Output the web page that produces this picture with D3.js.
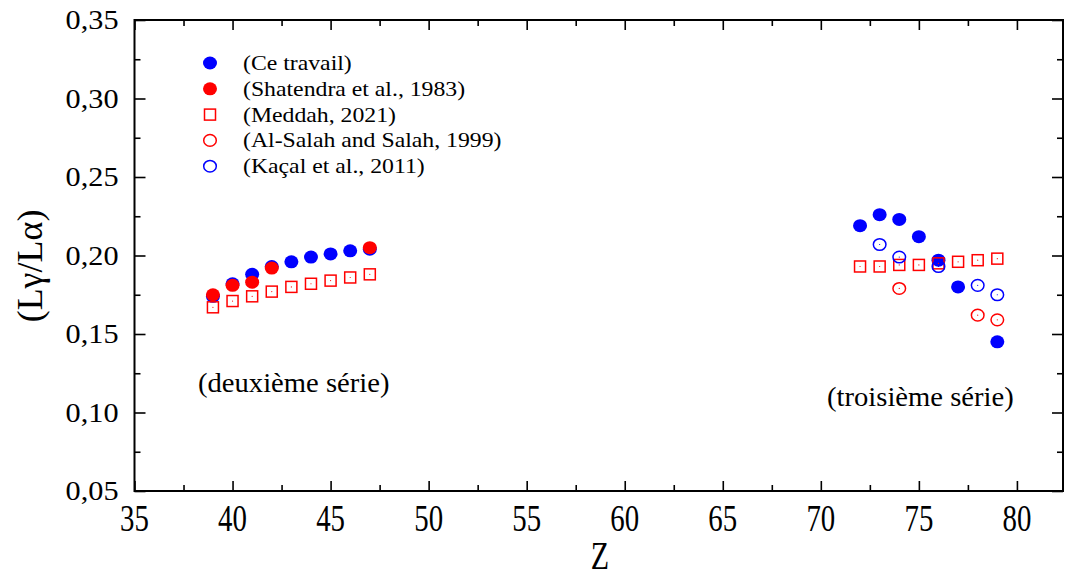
<!DOCTYPE html>
<html><head><meta charset="utf-8">
<script src="https://cdn.jsdelivr.net/npm/d3@7"></script>
<style>body{margin:0;background:#fff}svg{display:block}</style>
</head><body><svg id="c" width="1066" height="579" font-family="'Liberation Serif', 'Times New Roman', Times, serif"></svg>
<script>
// ---- data ----
const ceTravailZ = [39,40,41,42,43,44,45,46,47,72,73,74,75,76,77,79];
const ceTravailY = [0.174,0.182,0.188,0.193,0.196,0.199,0.201,0.203,0.204,0.219,0.226,0.223,0.212,0.197,0.180,0.145];
const shatendraZ = [39,40,41,42,47];
const shatendraY = [0.175,0.181,0.183,0.192,0.205];
const meddahZ = [39,40,41,42,43,44,45,46,47,72,73,74,75,76,77,78,79];
const meddahY = [0.167,0.171,0.174,0.177,0.180,0.182,0.184,0.186,0.188,0.193,0.193,0.194,0.194,0.195,0.196,0.197,0.198];
const alSalahZ = [74,78,79];
const alSalahY = [0.179,0.162,0.159];
const kacalZ = [73,74,76,78,79];
const kacalY = [0.207,0.199,0.193,0.181,0.175];
const xTicks = [35,40,45,50,55,60,65,70,75,80];
const yTicks = [0.05,0.10,0.15,0.20,0.25,0.30,0.35];
const legendLabels = ["(Ce travail)","(Shatendra et al., 1983)","(Meddah, 2021)","(Al-Salah and Salah, 1999)","(Kaçal et al., 2011)"];

const FONT = "'Liberation Serif', 'Times New Roman', Times, serif";
const svg = d3.select("#c");
const L=134.5, R=1063, T=20, B=491;
const x = d3.scaleLinear().domain([35,82.35]).range([L,R]);
const y = d3.scaleLinear().domain([0.05,0.35]).range([B,T]);
const fmt = d => d3.format(".2f")(d).replace(".",",");

// frame
svg.append("rect").attr("x",L).attr("y",T).attr("width",R-L).attr("height",B-T)
  .attr("fill","none").attr("stroke","#000").attr("stroke-width",2);

const xMinor = d3.range(37.5,82.4,5);
const yMinor = d3.range(0.075,0.35,0.05);
svg.append("g").attr("transform",`translate(0,${B})`).call(d3.axisBottom(x).tickValues(xTicks).tickSize(-10).tickFormat(""));
svg.append("g").attr("transform",`translate(0,${T})`).call(d3.axisTop(x).tickValues(xTicks).tickSize(-10).tickFormat(""));
svg.append("g").attr("transform",`translate(${L},0)`).call(d3.axisLeft(y).tickValues(yTicks).tickSize(-11).tickFormat(""));
svg.append("g").attr("transform",`translate(${R},0)`).call(d3.axisRight(y).tickValues(yTicks).tickSize(-11).tickFormat(""));
svg.append("g").attr("transform",`translate(0,${B})`).call(d3.axisBottom(x).tickValues(xMinor).tickSize(-6).tickFormat(""));
svg.append("g").attr("transform",`translate(0,${T})`).call(d3.axisTop(x).tickValues(xMinor).tickSize(-6).tickFormat(""));
svg.append("g").attr("transform",`translate(${L},0)`).call(d3.axisLeft(y).tickValues(yMinor).tickSize(-6).tickFormat(""));
svg.append("g").attr("transform",`translate(${R},0)`).call(d3.axisRight(y).tickValues(yMinor).tickSize(-6).tickFormat(""));
svg.selectAll(".domain").remove();
svg.selectAll(".tick line").attr("stroke","#000").attr("stroke-width",1.6);

// tick labels
svg.append("g").selectAll("text").data(xTicks).join("text")
  .attr("transform",d=>`translate(${x(d)},${B+40}) scale(0.76,1)`)
  .attr("font-family",FONT).attr("text-anchor","middle").attr("font-size",38).text(d=>d);
svg.append("g").selectAll("text").data(yTicks).join("text")
  .attr("transform",d=>`translate(${L-16},${y(d)+9}) scale(1.08,1)`)
  .attr("font-family",FONT).attr("text-anchor","end").attr("font-size",28).text(fmt);

// axis titles
svg.append("text").attr("transform",`translate(600,569) scale(0.75,1)`)
  .attr("font-family",FONT).attr("text-anchor","middle").attr("font-size",40).text("Z");
svg.append("text").attr("transform",`translate(42,266) rotate(-90)`)
  .attr("font-family",FONT).attr("text-anchor","middle").attr("font-size",36).text("(Lγ/Lα)");

// annotations
svg.append("text").attr("transform","translate(198,392) scale(1.06,1)").attr("font-family",FONT).attr("font-size",27).text("(deuxième série)");
svg.append("text").attr("transform","translate(827,406) scale(1.06,1)").attr("font-family",FONT).attr("font-size",27).text("(troisième série)");

// series
const blue="#0000ff", red="#ff0000";
function filled(zs,ys,col){
  svg.append("g").selectAll("ellipse").data(zs).join("ellipse")
    .attr("cx",d=>x(d)).attr("cy",(d,i)=>y(ys[i])).attr("rx",7).attr("ry",6.5).attr("fill",col);
}
function openC(zs,ys,col){
  const g=svg.append("g");
  g.selectAll("ellipse").data(zs).join("ellipse")
    .attr("cx",d=>x(d)).attr("cy",(d,i)=>y(ys[i])).attr("rx",6.3).attr("ry",5.8)
    .attr("fill","none").attr("stroke",col).attr("stroke-width",1.5);
  g.selectAll("circle").data(zs).join("circle")
    .attr("cx",d=>x(d)).attr("cy",(d,i)=>y(ys[i])).attr("r",0.6).attr("fill",col);
}
function squares(zs,ys,col){
  const g=svg.append("g");
  g.selectAll("rect").data(zs).join("rect")
    .attr("x",d=>x(d)-5.5).attr("y",(d,i)=>y(ys[i])-5.5).attr("width",11).attr("height",11)
    .attr("fill","none").attr("stroke",col).attr("stroke-width",1.5);
  g.selectAll("circle").data(zs).join("circle")
    .attr("cx",d=>x(d)).attr("cy",(d,i)=>y(ys[i])).attr("r",0.6).attr("fill",col);
}
filled(ceTravailZ,ceTravailY,blue);
filled(shatendraZ,shatendraY,red);
squares(meddahZ,meddahY,red);
openC(alSalahZ,alSalahY,red);
openC(kacalZ,kacalY,blue);

// legend
const lg = svg.append("g");
const ly = i => 63 + i*25.8;
lg.append("ellipse").attr("cx",210).attr("cy",ly(0)).attr("rx",7).attr("ry",6.5).attr("fill",blue);
lg.append("ellipse").attr("cx",210).attr("cy",ly(1)).attr("rx",7).attr("ry",6.5).attr("fill",red);
lg.append("rect").attr("x",204.5).attr("y",ly(2)-5.5).attr("width",11).attr("height",11).attr("fill","none").attr("stroke",red).attr("stroke-width",1.5);
lg.append("ellipse").attr("cx",210).attr("cy",ly(3)).attr("rx",6.3).attr("ry",5.8).attr("fill","none").attr("stroke",red).attr("stroke-width",1.5);
lg.append("ellipse").attr("cx",210).attr("cy",ly(4)).attr("rx",6.3).attr("ry",5.8).attr("fill","none").attr("stroke",blue).attr("stroke-width",1.5);
lg.selectAll("text").data(legendLabels).join("text")
  .attr("transform",(d,i)=>`translate(243,${ly(i)+7}) scale(1.08,1)`)
  .attr("font-family",FONT).attr("font-size",22).text(d=>d);
</script></body></html>
